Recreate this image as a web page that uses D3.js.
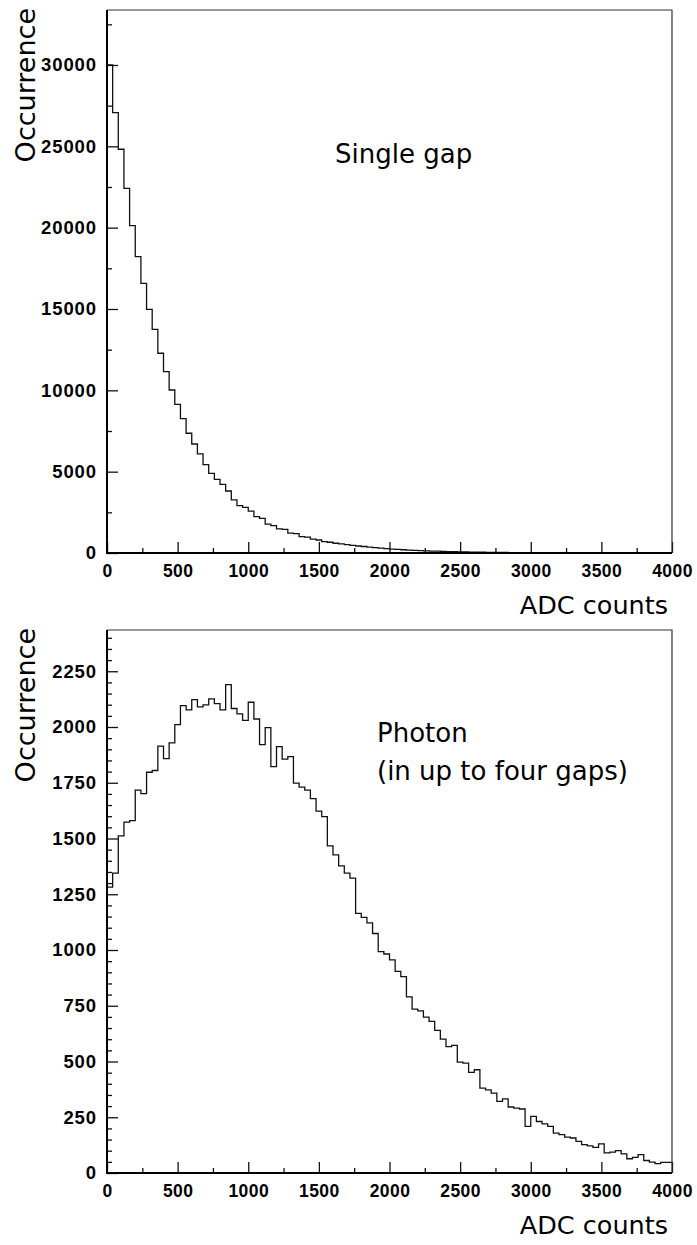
<!DOCTYPE html>
<html>
<head>
<meta charset="utf-8">
<script src="https://cdn.jsdelivr.net/npm/d3@7"></script>
<style>
  body { margin: 0; background: #fff; }
  svg { display: block; }
</style>
</head>
<body>
<div id="chart"></div>
<script>
// histogram data, 100 bins of 40 ADC counts each
const binWidth = 40;
const xMajorTicks = [0, 500, 1000, 1500, 2000, 2500, 3000, 3500, 4000];
const xMinorTicks = [250, 750, 1250, 1750, 2250, 2750, 3250, 3750];

// single gap spectrum
const singleGap = [
  30000, 27070, 24820, 22420, 20120, 18220, 16580, 14980, 13750, 12280,
  11150, 10020, 9140, 8260, 7360, 6700, 6090, 5430, 4900, 4530,
  4220, 3810, 3260, 2910, 2810, 2580, 2230, 2130, 1780, 1680,
  1480, 1450, 1220, 1190, 1010, 980, 850, 800, 700, 660,
  600, 560, 520, 470, 430, 400, 360, 330, 300, 270,
  240, 220, 200, 180, 165, 150, 135, 120, 110, 100,
  90, 80, 72, 65, 58, 52, 46, 42, 38, 34,
  30, 27, 24, 22, 20, 18, 16, 14, 13, 12,
  10, 9, 8, 8, 7, 6, 6, 5, 5, 4,
  4, 3, 3, 3, 2, 2, 2, 2, 1, 1
];
const singleYMajor = [0, 5000, 10000, 15000, 20000, 25000, 30000];
const singleYMinor = [2500, 7500, 12500, 17500, 22500, 27500, 32500];

// photon spectrum (up to four gaps)
const photon = [
  1282, 1345, 1512, 1573, 1580, 1717, 1701, 1797, 1805, 1914,
  1858, 1929, 2011, 2096, 2077, 2123, 2090, 2099, 2126, 2105,
  2077, 2190, 2083, 2059, 2030, 2111, 2036, 1921, 1997, 1822,
  1912, 1856, 1867, 1748, 1730, 1717, 1679, 1623, 1598, 1467,
  1427, 1377, 1345, 1322, 1164, 1146, 1122, 1074, 993, 982,
  956, 904, 881, 790, 735, 727, 699, 680, 640, 600,
  567, 572, 497, 493, 451, 463, 381, 373, 358, 321,
  332, 296, 291, 287, 209, 254, 231, 220, 209, 179,
  172, 161, 157, 142, 127, 122, 115, 131, 90, 94,
  100, 86, 64, 70, 82, 56, 49, 42, 48, 48
];
const photonYMajor = [0, 250, 500, 750, 1000, 1250, 1500, 1750, 2000, 2250];
const photonYMinor = d3.range(50, 2450, 50).filter(v => v % 250 !== 0);

const W = 697, H = 1245;
const left = 107, right = 672;
const fmt = d3.format('d');

const svg = d3.select('#chart').append('svg')
  .attr('width', W)
  .attr('height', H)
  .style('font-family', 'DejaVu Sans, sans-serif');

function drawPanel(opts) {
  const x = d3.scaleLinear().domain([0, 4000]).range([left, right]);
  const y = d3.scaleLinear().domain([0, opts.yMax]).range([opts.bottom, opts.top]);
  const g = svg.append('g');

  // histogram outline
  const pts = [[0, 0]];
  opts.values.forEach((v, i) => {
    pts.push([i * binWidth, v]);
    pts.push([(i + 1) * binWidth, v]);
  });
  const line = d3.line().x(d => x(d[0])).y(d => y(d[1]));
  g.append('path')
    .attr('d', line(pts))
    .attr('fill', 'none')
    .attr('stroke', '#111')
    .attr('stroke-width', 1.3);

  // y axis (ticks pointing inside)
  const yMaj = g.append('g')
    .attr('transform', `translate(${left},0)`)
    .call(d3.axisLeft(y).tickValues(opts.yMajor).tickSize(-11).tickPadding(10).tickFormat(fmt));
  const yMin = g.append('g')
    .attr('transform', `translate(${left},0)`)
    .call(d3.axisLeft(y).tickValues(opts.yMinor).tickSize(-5).tickFormat(''));

  // x axis
  const xMaj = g.append('g')
    .attr('transform', `translate(0,${opts.bottom})`)
    .call(d3.axisBottom(x).tickValues(xMajorTicks).tickSize(-11).tickPadding(7).tickFormat(fmt));
  const xMin = g.append('g')
    .attr('transform', `translate(0,${opts.bottom})`)
    .call(d3.axisBottom(x).tickValues(xMinorTicks).tickSize(-5).tickFormat(''));

  [yMaj, yMin, xMaj, xMin].forEach(a => {
    a.select('.domain').remove();
    a.selectAll('line').attr('stroke', '#111').attr('stroke-width', 1.3);
  });
  [yMaj, xMaj].forEach(a => {
    a.selectAll('text')
      .attr('fill', '#000')
      .style('font-family', 'Liberation Sans, Arial, sans-serif')
      .style('font-weight', 'bold');
  });
  yMaj.selectAll('text').style('font-size', '18.5px').style('letter-spacing', '0.9px');
  xMaj.selectAll('text').style('font-size', '17.5px').style('letter-spacing', '0.4px')
    .attr('dy', '0.95em');

  // frame
  g.append('path')
    .attr('d', `M${left},${opts.top}H${right}V${opts.bottom}`)
    .attr('fill', 'none').attr('stroke', '#333').attr('stroke-width', 1.2);
  g.append('path')
    .attr('d', `M${left},${opts.top}V${opts.bottom}H${right}`)
    .attr('fill', 'none').attr('stroke', '#000').attr('stroke-width', 2);

  // axis titles
  g.append('text')
    .attr('transform', `translate(35,${opts.top - 2}) rotate(-90)`)
    .attr('text-anchor', 'end')
    .style('font-size', '27px')
    .text('Occurrence');
  g.append('text')
    .attr('x', 668)
    .attr('y', opts.bottom + 61)
    .attr('text-anchor', 'end')
    .style('font-size', '25.5px')
    .text('ADC counts');

  opts.labels.forEach(l => {
    g.append('text')
      .attr('x', l.x).attr('y', l.y)
      .style('font-size', '26px')
      .text(l.text);
  });
}

drawPanel({
  values: singleGap, yMax: 33380, top: 10, bottom: 553,
  yMajor: singleYMajor, yMinor: singleYMinor,
  labels: [{ text: 'Single gap', x: 335, y: 163 }]
});

drawPanel({
  values: photon, yMax: 2435, top: 630, bottom: 1173,
  yMajor: photonYMajor, yMinor: photonYMinor,
  labels: [
    { text: 'Photon', x: 377, y: 742 },
    { text: '(in up to four gaps)', x: 377, y: 780 }
  ]
});
</script>
</body>
</html>
